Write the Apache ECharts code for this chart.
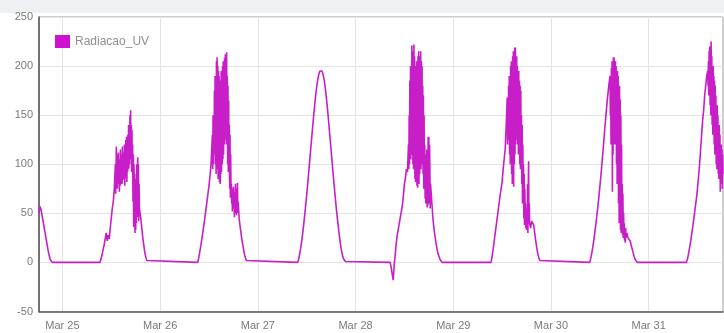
<!DOCTYPE html>
<html>
<head>
<meta charset="utf-8">
<script src="https://cdn.jsdelivr.net/npm/echarts@6/dist/echarts.min.js"></script>
<style>
  html, body { margin: 0; padding: 0; background: #ffffff; }
  #chart { width: 724px; height: 333px; }
</style>
</head>
<body>
<div id="chart"></div>
<script>
// UV radiation readings. Calm parts of each day are logged every 15 minutes,
// the cloudy middle of the day every 5 minutes. Hours count from Mar 25 00:00;
// nights sit at zero between records.
const quarterHour = 0.25;
const fiveMinutes = 5 / 60;
const tickLabels = ['Mar 25', 'Mar 26', 'Mar 27', 'Mar 28', 'Mar 29', 'Mar 30', 'Mar 31'];
const tickHours = [0, 24, 48, 72, 96, 120, 144];
const viewStart = -5.75;
const viewEnd = 162.25;

// Mar 24 (evening tail)
const eveningMar24 = [50, 57, 54, 48, 42, 36, 30, 24, 18, 12, 7, 3, 1, 0];

// Mar 25
const riseMar25 = [0, 4, 8, 13, 18, 24, 30, 22, 28, 24, 35, 45, 55, 62, 75];
const burstMar25 = [100, 70, 95, 118, 80, 105, 75, 110, 80, 112, 85, 100, 72, 105, 78, 115, 80, 108,
  82, 110, 80, 118, 84, 112, 85, 110, 88, 120, 78, 115, 86, 125, 90, 128, 82, 120,
  92, 130, 95, 140, 96, 135, 100, 150, 105, 155, 108, 140, 92, 135, 95, 120, 62, 110,
  36, 100, 40, 90, 30, 85, 33, 80, 40, 100, 46, 95, 107, 52, 100, 42, 80, 55];
const fallMar25 = [45, 35, 25, 17, 10, 5, 2, 0];

// Mar 26
const riseMar26 = [0, 5, 11, 17, 24, 31, 38, 46, 54, 62, 70, 78, 88, 100];
const burstMar26 = [100, 130, 95, 150, 100, 140, 110, 175, 115, 190, 100, 180, 90, 205, 95, 209, 100, 200,
  85, 195, 90, 190, 82, 185, 80, 185, 90, 195, 92, 190, 100, 200, 105, 205, 110, 200,
  120, 208, 125, 212, 130, 205, 120, 214, 130, 190, 100, 180, 92, 165, 95, 140, 75, 130,
  66, 110, 70, 80, 60, 75, 52, 70, 55, 77, 56, 72, 46, 70, 50, 80, 52, 75,
  48, 74, 52, 81, 50, 62];
const fallMar26 = [44, 36, 28, 21, 15, 9, 5, 2, 0];

// Mar 27 (clear sky)
const dayMar27 = [0, 3, 8, 14, 21, 29, 38, 48, 58, 69, 80, 92, 104, 116, 128, 140, 151, 162, 172, 180,
  187, 192, 195, 196, 195, 192, 187, 180, 171, 161, 150, 138, 126, 114, 102, 90, 78, 67, 56, 46,
  37, 28, 20, 13, 8, 4, 2, 1, 0];

// Mar 28
const riseMar28 = [0, -5, -12, -18, -2, 8, 20, 28, 34, 40, 46, 52, 58, 68, 80, 86, 95, 92];
const burstMar28 = [120, 95, 150, 100, 185, 110, 200, 105, 190, 110, 221, 120, 215, 100, 205, 95, 222, 100,
  210, 85, 200, 82, 200, 90, 205, 78, 195, 76, 210, 85, 215, 80, 205, 90, 210, 95,
  215, 95, 205, 100, 200, 110, 180, 90, 170, 75, 150, 80, 120, 65, 110, 60, 110, 62,
  115, 56, 105, 58, 128, 62, 128, 60, 120, 100, 55, 80];
const fallMar28 = [60, 45, 35, 27, 20, 14, 9, 6, 3, 1, 0];

// Mar 29
const riseMar29 = [0, 5, 12, 20, 28, 36, 44, 52, 60, 68, 75, 82, 95, 105, 115, 140];
const burstMar29 = [168, 120, 160, 125, 180, 130, 190, 110, 185, 100, 200, 110, 205, 90, 195, 80, 210, 90,
  215, 77, 205, 100, 219, 110, 219, 120, 210, 125, 210, 130, 200, 120, 195, 110, 195, 115,
  185, 100, 180, 95, 175, 100, 150, 80, 140, 60, 120, 65, 100, 45, 90, 38, 75, 42,
  60, 35, 55, 33, 55, 38, 80, 30, 75, 103, 40, 60];
const fallMar29 = [40, 35, 42, 44, 38, 30, 22, 15, 9, 5, 2, 0];

// Mar 30
const riseMar30 = [0, 4, 9, 15, 22, 30, 38, 47, 56, 66, 77, 88, 100, 112, 125, 138, 150, 162, 172, 182];
const burstMar30 = [190, 150, 185, 120, 198, 130, 205, 72, 200, 110, 209, 120, 209, 130, 205, 120, 205, 125,
  200, 100, 195, 80, 195, 90, 190, 60, 180, 40, 180, 50, 166, 33, 150, 30, 120, 35,
  80, 28, 70, 25, 50, 30, 40, 22, 35, 20, 35, 25];
const fallMar30 = [30, 25, 27, 22, 18, 14, 10, 6, 3, 1, 0];

// Mar 31 (until the end of the record)
const riseMar31 = [0, 3, 8, 14, 20, 27, 34, 42, 50, 58, 66, 76, 88, 100, 115, 130, 145, 155, 170, 180, 190];
const burstMar31 = [195, 180, 205, 170, 215, 175, 220, 160, 215, 150, 225, 160, 210, 140, 200, 130, 200, 135,
  190, 120, 185, 110, 180, 120, 170, 100, 160, 95, 160, 100, 150, 90, 140, 85, 140, 95,
  130, 72, 120, 80, 120, 85, 115, 75, 110, 90];

// [start hour, spacing in hours, readings]
const segments = [
  [-5.75, quarterHour, eveningMar24],
  [9.25, quarterHour, riseMar25], [13.0, fiveMinutes, burstMar25], [19.25, quarterHour, fallMar25],
  [33.25, quarterHour, riseMar26], [36.75, fiveMinutes, burstMar26], [43.42, quarterHour, fallMar26],
  [57.75, quarterHour, dayMar27],
  [80.5, quarterHour, riseMar28], [85.0, fiveMinutes, burstMar28], [90.75, quarterHour, fallMar28],
  [105.25, quarterHour, riseMar29], [109.25, fiveMinutes, burstMar29], [114.75, quarterHour, fallMar29],
  [129.5, quarterHour, riseMar30], [134.5, fiveMinutes, burstMar30], [138.67, quarterHour, fallMar30],
  [153.25, quarterHour, riseMar31], [158.5, fiveMinutes, burstMar31]
];

const points = [];
segments.forEach(([start, step, values]) => {
  values.forEach((v, i) => points.push([start + i * step, v]));
});

const chart = echarts.init(document.getElementById('chart'), null, { renderer: 'canvas' });
chart.setOption({
  animation: false,
  backgroundColor: '#ffffff',
  textStyle: { fontFamily: 'Liberation Sans, Arial, sans-serif' },
  graphic: [{
    type: 'rect', left: 0, top: 0, z: -10,
    shape: { width: 724, height: 13 },
    style: { fill: '#eef1f4' }
  }],
  grid: {
    left: 39, top: 17, width: 684, height: 294.5,
    show: true, borderColor: '#9a9a9a', borderWidth: 1, backgroundColor: '#ffffff'
  },
  legend: {
    left: 50, top: 30, itemWidth: 15, itemHeight: 13, itemGap: 7,
    icon: 'rect',
    textStyle: { color: '#909090', fontSize: 12 },
    data: ['Radiacao_UV']
  },
  xAxis: {
    type: 'value', min: viewStart, max: viewEnd,
    axisLine: { show: true, onZero: false, lineStyle: { color: '#555555', width: 1.5 } },
    axisTick: { show: false, customValues: tickHours },
    axisLabel: {
      customValues: tickHours,
      color: '#7a7a7a', fontSize: 11, margin: 9,
      formatter: (v) => tickLabels[Math.round(v / 24)]
    },
    splitLine: { show: true, lineStyle: { color: '#e4e4e4', width: 1 } }
  },
  yAxis: {
    type: 'value', min: -50, max: 250, interval: 50,
    axisLine: { show: true, onZero: false, lineStyle: { color: '#555555', width: 1.5 } },
    axisTick: { show: false },
    axisLabel: { color: '#7a7a7a', fontSize: 11, margin: 6 },
    splitLine: { show: true, lineStyle: { color: '#e4e4e4', width: 1 } }
  },
  series: [{
    name: 'Radiacao_UV',
    type: 'line',
    data: points,
    showSymbol: false,
    color: '#d010d0',
    lineStyle: { width: 1.6, color: '#c81ec8' }
  }]
});
</script>
</body>
</html>
